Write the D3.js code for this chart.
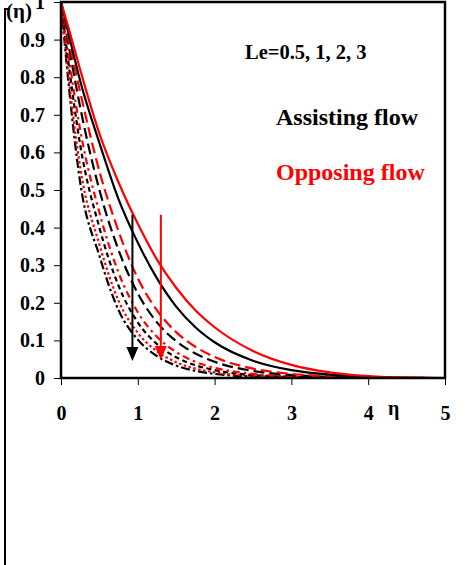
<!DOCTYPE html>
<html>
<head>
<meta charset="utf-8">
<script src="https://cdn.jsdelivr.net/npm/d3@7"></script>
<style>
  html, body { margin: 0; padding: 0; background: #fff; }
  svg { display: block; }
  svg text { font-family: "Liberation Serif", "Times New Roman", serif !important; font-weight: bold; }
</style>
</head>
<body>
<svg id="chart" width="469" height="565"></svg>
<script>
const eta = [0, 0.1, 0.25, 0.5, 0.75, 1, 1.25, 1.5, 1.75, 2, 2.5, 3, 3.5, 4, 4.5, 5];

// assisting flow (black), Le = 0.5, 1, 2, 3
const assistLe05 = [1, 0.915, 0.79, 0.625, 0.475, 0.36, 0.265, 0.19, 0.135, 0.095, 0.046, 0.021, 0.009, 0.003, 0.0007, 0];
const assistLe1  = [1, 0.885, 0.72, 0.5, 0.34, 0.225, 0.148, 0.098, 0.065, 0.043, 0.019, 0.008, 0.003, 0.001, 0.0002, 0];
const assistLe2  = [1, 0.835, 0.62, 0.4, 0.245, 0.148, 0.09, 0.055, 0.034, 0.021, 0.008, 0.003, 0.001, 0.0003, 0, 0];
const assistLe3  = [1, 0.78, 0.52, 0.325, 0.18, 0.102, 0.058, 0.033, 0.019, 0.011, 0.0038, 0.0013, 0.0004, 0.0001, 0, 0];

// opposing flow (red), Le = 0.5, 1, 2, 3
const opposeLe05 = [1, 0.93, 0.82, 0.65, 0.52, 0.41, 0.315, 0.24, 0.18, 0.135, 0.072, 0.035, 0.015, 0.005, 0.001, 0];
const opposeLe1  = [1, 0.9, 0.76, 0.55, 0.39, 0.265, 0.18, 0.122, 0.083, 0.056, 0.025, 0.011, 0.0045, 0.0015, 0.0003, 0];
const opposeLe2  = [1, 0.855, 0.66, 0.44, 0.28, 0.175, 0.11, 0.069, 0.043, 0.027, 0.011, 0.0043, 0.0016, 0.0005, 0, 0];
const opposeLe3  = [1, 0.8, 0.56, 0.355, 0.205, 0.12, 0.071, 0.042, 0.025, 0.015, 0.0055, 0.002, 0.0007, 0.0002, 0, 0];

const xTicks = [0, 1, 2, 3, 4, 5];
const yTicks = [0, 0.1, 0.2, 0.3, 0.4, 0.5, 0.6, 0.7, 0.8, 0.9, 1];

// arrows: [eta, top phi, tip phi]
const assistArrow = [0.93, 0.434, 0.045];
const opposeArrow = [1.30, 0.434, 0.048];

const series = [
  { values: assistLe3,  color: "#000", dash: "9,3,2.5,3" },
  { values: opposeLe3,  color: "#f00", dash: "2.5,2.5" },
  { values: assistLe2,  color: "#000", dash: "5,3.5" },
  { values: opposeLe2,  color: "#f00", dash: "7,4,2.5,4" },
  { values: assistLe1,  color: "#000", dash: "11,5" },
  { values: opposeLe1,  color: "#f00", dash: "11,5" },
  { values: assistLe05, color: "#000", dash: null },
  { values: opposeLe05, color: "#f00", dash: null }
];

const svg = d3.select("#chart");
const plotLeft = 61, plotRight = 445, plotTop = 2, plotBottom = 378;

const x = d3.scaleLinear().domain([0, 5]).range([plotLeft, plotRight]);
const y = d3.scaleLinear().domain([0, 1]).range([plotBottom, plotTop]);

// outer frame edge on the left
svg.append("path")
  .attr("d", "M8,9H5V565")
  .attr("fill", "none")
  .attr("stroke", "#000")
  .attr("stroke-width", 2);

svg.append("defs").append("clipPath").attr("id", "plot-clip")
  .append("rect")
  .attr("x", plotLeft).attr("y", plotTop)
  .attr("width", plotRight - plotLeft).attr("height", plotBottom - plotTop);

// y axis
const yAxis = svg.append("g")
  .attr("transform", `translate(${plotLeft},0)`)
  .call(d3.axisLeft(y).tickValues(yTicks).tickSize(7).tickPadding(9)
    .tickFormat(d => d === 0 || d === 1 ? d3.format("d")(d) : d3.format(".1f")(d)));
yAxis.select(".domain").remove();
yAxis.selectAll("text").attr("font-size", 20).attr("fill", "#000");
yAxis.selectAll("line").attr("stroke", "#000");

// x axis
const xAxis = svg.append("g")
  .attr("transform", `translate(0,${plotBottom})`)
  .call(d3.axisBottom(x).tickValues(xTicks).tickSize(7).tickPadding(21).tickFormat(d3.format("d")));
xAxis.select(".domain").remove();
xAxis.selectAll("text").attr("font-size", 20).attr("fill", "#000");
xAxis.selectAll("line").attr("stroke", "#000");

// curves
const line = d3.line()
  .x((d, i) => x(eta[i]))
  .y(d => y(d))
  .curve(d3.curveMonotoneX);

svg.append("g")
  .attr("clip-path", "url(#plot-clip)")
  .selectAll("path")
  .data(series)
  .join("path")
  .attr("d", d => line(d.values))
  .attr("fill", "none")
  .attr("stroke", d => d.color)
  .attr("stroke-width", 2.2)
  .attr("stroke-dasharray", d => d.dash);

// plot frame
svg.append("rect")
  .attr("x", plotLeft).attr("y", plotTop)
  .attr("width", plotRight - plotLeft).attr("height", plotBottom - plotTop)
  .attr("fill", "none")
  .attr("stroke", "#000")
  .attr("stroke-width", 2.5);

// arrows
function drawArrow(a, color) {
  const ax = x(a[0]);
  const tip = y(a[2]);
  svg.append("line")
    .attr("x1", ax).attr("x2", ax)
    .attr("y1", y(a[1])).attr("y2", tip - 10)
    .attr("stroke", color)
    .attr("stroke-width", 2);
  svg.append("path")
    .attr("d", `M${ax - 6},${tip - 14}L${ax + 6},${tip - 14}L${ax},${tip}Z`)
    .attr("fill", color);
}
drawArrow(assistArrow, "#000");
drawArrow(opposeArrow, "#f00");

// labels
svg.append("text").attr("x", 6).attr("y", 18).attr("font-size", 21).text("(η)");
svg.append("text").attr("x", 388).attr("y", 415).attr("font-size", 20).text("η");
svg.append("text").attr("x", 245).attr("y", 59).attr("font-size", 20.5).text("Le=0.5, 1, 2, 3");
svg.append("text").attr("x", 276).attr("y", 125).attr("font-size", 24).text("Assisting flow");
svg.append("text").attr("x", 276).attr("y", 180).attr("font-size", 24).attr("fill", "#f00").text("Opposing flow");
</script>
</body>
</html>
